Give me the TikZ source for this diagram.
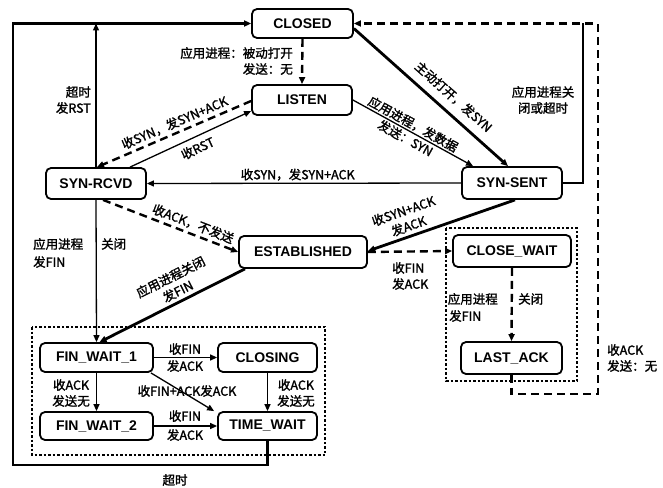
\documentclass[tikz,border=0pt]{standalone}
\usepackage{fontspec}
\setmainfont{Noto Sans CJK SC}[FakeBold=1.6]
\newfontfamily\nodefont{Liberation Sans}
\usetikzlibrary{arrows.meta,calc}
\begin{document}
\begin{tikzpicture}[x=1pt,y=-1pt,
  state/.style={draw,line width=1.8pt,rounded corners=5pt,inner sep=0pt,
    font=\nodefont\bfseries\fontsize{14}{16}\selectfont},
  lbl/.style={font=\fontsize{12.5}{16}\selectfont,inner sep=1pt},
  tr/.style={line width=1.3pt},
  tk/.style={line width=2.8pt},
  dk/.style={line width=2.4pt,dash pattern=on 8pt off 5pt},
  ar/.style={-{Triangle[length=7pt,width=6pt]}},
  box/.style={line width=1.2pt,dash pattern=on 2.5pt off 2pt}
]
\useasboundingbox (0,0) rectangle (663,487);
% containers
\draw[box] (32,327) rectangle (325,455);
\draw[box] (446,228) rectangle (577,381);
% states
\node[state,minimum width=101pt,minimum height=29pt] (closed) at (302.5,23.5) {CLOSED};
\node[state,minimum width=100pt,minimum height=30pt] (listen) at (302,100) {LISTEN};
\node[state,minimum width=100pt,minimum height=31pt] (rcvd) at (96,183.5) {SYN-RCVD};
\node[state,minimum width=100pt,minimum height=32pt] (sent) at (512,183) {SYN-SENT};
\node[state,minimum width=128pt,minimum height=32pt] (est) at (303,252) {ESTABLISHED};
\node[state,minimum width=118pt,minimum height=32pt] (cw) at (512,251) {CLOSE\_WAIT};
\node[state,minimum width=101pt,minimum height=32pt] (la) at (511.5,358) {LAST\_ACK};
\node[state,minimum width=113pt,minimum height=29pt] (fw1) at (96.5,357.5) {FIN\_WAIT\_1};
\node[state,minimum width=99pt,minimum height=29pt] (cl) at (267.5,357.5) {CLOSING};
\node[state,minimum width=113pt,minimum height=28pt] (fw2) at (96.5,426) {FIN\_WAIT\_2};
\node[state,minimum width=99pt,minimum height=28pt] (tw) at (267.5,426) {TIME\_WAIT};
% helper coordinates
\coordinate (rcvdtop) at (96,23.5);
\coordinate (sentc1) at (583,183);
\coordinate (sentc2) at (583,23.5);
\coordinate (lac1) at (511.5,394);
\coordinate (lac2) at (598,394);
\coordinate (lac3) at (598,23.5);
\coordinate (twc1) at (267.5,465);
\coordinate (twc2) at (13,465);
\coordinate (twc3) at (13,23.5);
% edges
\draw[dk,ar] (closed.south) -- (listen.north);
\node[lbl,anchor=east,align=right] (l1) at (294,61) {应用进程：被动打开\\发送：无};
\draw[tk,ar] ([yshift=-5pt]closed.east) -- ([xshift=-4pt]sent.north)
  node[lbl,pos=0.58,sloped,above=7pt] (l2) {主动打开，发SYN};
\draw[tr,ar] (listen.east) -- ([xshift=-39pt]sent.north)
  node[lbl,pos=0.47,sloped,align=center] (l3) {应用进程，发数据\\发送：SYN};
\draw[dk,ar] ([yshift=-1pt]listen.west) -- ([xshift=1pt]rcvd.north)
  node[lbl,pos=0.47,sloped,above=2pt] (l4) {收SYN，发SYN+ACK};
\draw[tr,ar] ([xshift=34pt]rcvd.north) -- ([yshift=-11pt]listen.west)
  node[lbl,pos=0.52,sloped,below=4pt] (l5) {收RST};
\draw[tr,ar] (sent.west) -- (rcvd.east)
  node[lbl,pos=0.52,above=1pt] (l6) {收SYN，发SYN+ACK};
\draw[tr,ar] (rcvd.north) -- (rcvdtop);
\node[lbl,anchor=east,align=right] (l7) at (92,100) {超时\\发RST};
\draw[tr,ar] (rcvd.south) -- (fw1.north);
\node[lbl,anchor=west] (l8a) at (32,244) {应用进程};
\node[lbl,anchor=west] (l8b) at (100,244) {关闭};
\node[lbl,anchor=west] (l8c) at (32,262) {发FIN};
\draw[dk,ar] ([xshift=7pt]rcvd.south) -- (est.west)
  node[lbl,pos=0.64,sloped,above=2pt] (l9) {收ACK，不发送};
\draw[tk,ar] ([xshift=3pt]sent.south) -- ([yshift=1pt]est.east)
  node[lbl,pos=0.7,sloped,above=2pt,align=center] (l10) {收SYN+ACK\\发ACK};
\draw[tr] (sent.east) -- (sentc1) -- (sentc2);
\node[lbl,align=center] (l11) at (543,100) {应用进程关\\闭或超时};
\draw[dk,ar] (la.south) -- (lac1) -- (lac2) -- (lac3) -- (closed.east);
\node[lbl,anchor=west,align=left] (l12) at (606,358) {收ACK\\发送：无};
\draw[dk,ar] (est.east) -- (cw.west);
\node[lbl,anchor=west,align=left] (l13) at (391,276) {收FIN\\发ACK};
\draw[dk,ar] (cw.south) -- (la.north);
\node[lbl,anchor=east] (l14a) at (499,299) {应用进程};
\node[lbl,anchor=west] (l14b) at (517,299) {关闭};
\node[lbl,anchor=west] (l14c) at (448,316) {发FIN};
\draw[tk,ar] ([xshift=-58pt]est.south) -- ([xshift=3pt]fw1.north)
  node[lbl,pos=0.43,sloped,above=2pt,align=center] (l15) {应用进程关闭\\发FIN};
\draw[tr,ar] (fw1.east) -- (cl.west);
\node[lbl] (l16a) at (185,349) {收FIN};
\node[lbl] (l16b) at (185,366) {发ACK};
\draw[tr,ar] (fw1.south) -- (fw2.north);
\node[lbl,anchor=east,align=center] (l17) at (91,393) {收ACK\\发送无};
\draw[tr,ar] (cl.south) -- (tw.north);
\node[lbl,anchor=west,align=center] (l18) at (276,393) {收ACK\\发送无};
\draw[tr,ar] ([xshift=-3pt]fw1.south east) -- ([xshift=-3pt]tw.north west);
\node[lbl] (l19) at (187,391) {收FIN+ACK发ACK};
\draw[tr,ar] (fw2.east) -- (tw.west);
\node[lbl] (l20a) at (185,416) {收FIN};
\node[lbl] (l20b) at (185,435) {发ACK};
\draw[tk,ar] (tw.south) -- (twc1) -- (twc2) -- (twc3) -- (closed.west);
\node[lbl] (l21) at (175,480) {超时};
\end{tikzpicture}
\end{document}
